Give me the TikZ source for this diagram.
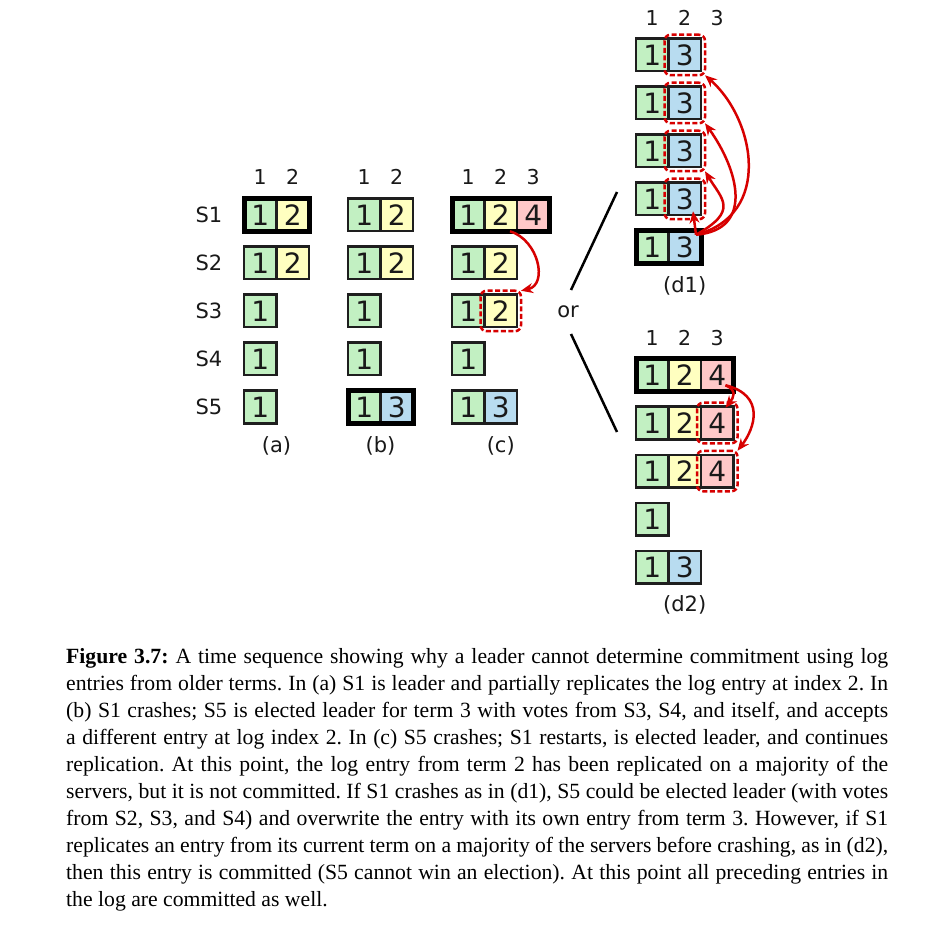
\documentclass[tikz,border=0pt]{standalone}
\usepackage{fontspec}
\setmainfont{Liberation Serif}
\newfontfamily\dvfont{DejaVu Sans}
\usetikzlibrary{arrows.meta,fit}
\definecolor{cellline}{RGB}{30,30,30}
\definecolor{tgreen}{RGB}{194,240,194}
\definecolor{tyellow}{RGB}{255,255,192}
\definecolor{tpink}{RGB}{255,200,200}
\definecolor{tblue}{RGB}{184,220,240}
\definecolor{redc}{RGB}{215,0,0}
\definecolor{inkc}{RGB}{25,25,25}
\newcommand\logrow[4]{%
  \foreach \tt [count=\ii] in {#4} {%
    \node[cell, term\tt] (#1-\ii) at ({#2+16.25+(\ii-1)*32.5}, #3) {\tt};
  }%
}
\begin{document}
\begin{tikzpicture}[x=1pt,y=-1pt,
  cell/.style={draw=cellline, line width=2.5pt, minimum size=32.5pt, inner sep=0pt, outer sep=0pt,
    font=\dvfont\fontsize{28}{28}\selectfont, text=inkc},
  term1/.style={fill=tgreen},
  term2/.style={fill=tyellow},
  term3/.style={fill=tblue},
  term4/.style={fill=tpink},
  leaderbox/.style={draw=black, line width=5pt},
  dbox/.style={draw=redc, line width=2.5pt, dash pattern=on 5pt off 2.5pt, rounded corners=6pt, inner sep=4pt, outer sep=0pt},
  arr/.style={draw=redc, line width=2.5pt, -{Stealth[length=12pt,width=10pt]}},
  hdr/.style={font=\dvfont\fontsize{20.5}{20.5}\selectfont, text=inkc, inner sep=0pt},
  lbl/.style={font=\dvfont\fontsize{21}{21}\selectfont, text=inkc, inner sep=0pt},
  sep/.style={draw=black, line width=2.5pt}
]
\useasboundingbox (0,0) rectangle (943,925);
\fill[white] (0,0) rectangle (943,925);

% server labels
\foreach \s/\y in {1/215,2/263,3/311,4/359,5/407}
  \node[lbl] (S\s) at (209,\y) {S\s};

% headers
\node[hdr] (ha1) at (260.25,177) {1};
\node[hdr] (ha2) at (292.75,177) {2};
\node[hdr] (hb1) at (364.25,177) {1};
\node[hdr] (hb2) at (396.75,177) {2};
\node[hdr] (hc1) at (468.25,177) {1};
\node[hdr] (hc2) at (500.75,177) {2};
\node[hdr] (hc3) at (533.25,177) {3};
\node[hdr] (hd11) at (652.25,18) {1};
\node[hdr] (hd12) at (684.75,18) {2};
\node[hdr] (hd13) at (717.25,18) {3};
\node[hdr] (hd21) at (652.25,338) {1};
\node[hdr] (hd22) at (684.75,338) {2};
\node[hdr] (hd23) at (717.25,338) {3};

% (a)
\logrow{a1}{244}{215}{1,2}
\logrow{a2}{244}{263}{1,2}
\logrow{a3}{244}{311}{1}
\logrow{a4}{244}{359}{1}
\logrow{a5}{244}{407}{1}
\draw[leaderbox] (a1-1.south west) rectangle (a1-2.north east);
% (b)
\logrow{b1}{348}{215}{1,2}
\logrow{b2}{348}{263}{1,2}
\logrow{b3}{348}{311}{1}
\logrow{b4}{348}{359}{1}
\logrow{b5}{348}{407}{1,3}
\draw[leaderbox] (b5-1.south west) rectangle (b5-2.north east);
% (c)
\logrow{c1}{452}{215}{1,2,4}
\logrow{c2}{452}{263}{1,2}
\logrow{c3}{452}{311}{1,2}
\logrow{c4}{452}{359}{1}
\logrow{c5}{452}{407}{1,3}
\draw[leaderbox] (c1-1.south west) rectangle (c1-3.north east);
\node[dbox, fit=(c3-2)] (cbox) {};
\draw[arr] ([xshift=-7pt]c1-2.south east) .. controls +(29,9) and +(27,-6) .. (cbox.north east);

% subcaptions
\node[lbl] (capa) at (276.5,446) {(a)};
\node[lbl] (capb) at (380.5,446) {(b)};
\node[lbl] (capc) at (500.75,446) {(c)};

% or
\node[lbl] (or) at (568,312) {or};
\draw[sep] (617,192) -- (571,290);
\draw[sep] (571,334) -- (617,432);

% (d1)
\logrow{e1}{636}{55}{1,3}
\logrow{e2}{636}{103}{1,3}
\logrow{e3}{636}{151}{1,3}
\logrow{e4}{636}{199}{1,3}
\logrow{e5}{636}{247}{1,3}
\draw[leaderbox] (e5-1.south west) rectangle (e5-2.north east);
\node[dbox, fit=(e1-2)] (ebox1) {};
\node[dbox, fit=(e2-2)] (ebox2) {};
\node[dbox, fit=(e3-2)] (ebox3) {};
\node[dbox, fit=(e4-2)] (ebox4) {};
\coordinate (eo) at ([xshift=-5pt,yshift=-4pt]e5-2.north east);
\draw[arr] (eo) .. controls +(77,-20) and +(50,44) .. (ebox1.south east);
\draw[arr] (eo) .. controls +(59,-5) and +(33,46) .. (ebox2.south east);
\draw[arr] (eo) .. controls +(43,-24) and +(17,28) .. (ebox3.south east);
\draw[arr] (eo) -- ([xshift=-8pt,yshift=4pt]e4-2.south east);
\node[lbl] (capd1) at (684.75,286) {(d1)};

% (d2)
\logrow{f1}{636}{375}{1,2,4}
\logrow{f2}{636}{423}{1,2,4}
\logrow{f3}{636}{471}{1,2,4}
\logrow{f4}{636}{519}{1}
\logrow{f5}{636}{567}{1,3}
\draw[leaderbox] (f1-1.south west) rectangle (f1-3.north east);
\node[dbox, fit=(f2-3)] (fbox2) {};
\node[dbox, fit=(f3-3)] (fbox3) {};
\coordinate (fo) at ([xshift=-8pt,yshift=6pt]f1-3.south east);
\draw[arr] (fo) .. controls +(12,5) and +(8,-10) .. ([xshift=-12pt,yshift=-5pt]fbox2.north east);
\draw[arr] (fo) .. controls +(40,10) and +(17.5,-22.75) .. (fbox3.north east);
\node[lbl] (capd2) at (684.75,605) {(d2)};

% caption
\node[anchor=base west, text width=822pt, align=justify, inner sep=0pt,
  font=\fontsize{21.7}{27}\selectfont, text=black] (cap) at (66,663) {%
\frenchspacing\hyphenpenalty=10000\exhyphenpenalty=10000\tolerance=10000%
\textbf{Figure 3.7:} A time sequence showing why a leader cannot determine commitment using log\linebreak
entries from older terms. In (a) S1 is leader and partially replicates the log entry at index 2. In\linebreak
(b) S1 crashes; S5 is elected leader for term 3 with votes from S3, S4, and itself, and accepts\linebreak
a different entry at log index 2. In (c) S5 crashes; S1 restarts, is elected leader, and continues\linebreak
replication. At this point, the log entry from term 2 has been replicated on a majority of the\linebreak
servers, but it is not committed. If S1 crashes as in (d1), S5 could be elected leader (with votes\linebreak
from S2, S3, and S4) and overwrite the entry with its own entry from term 3. However, if S1\linebreak
replicates an entry from its current term on a majority of the servers before crashing, as in (d2),\linebreak
then this entry is committed (S5 cannot win an election). At this point all preceding entries in\linebreak
the log are committed as well.};
\end{tikzpicture}
\end{document}
